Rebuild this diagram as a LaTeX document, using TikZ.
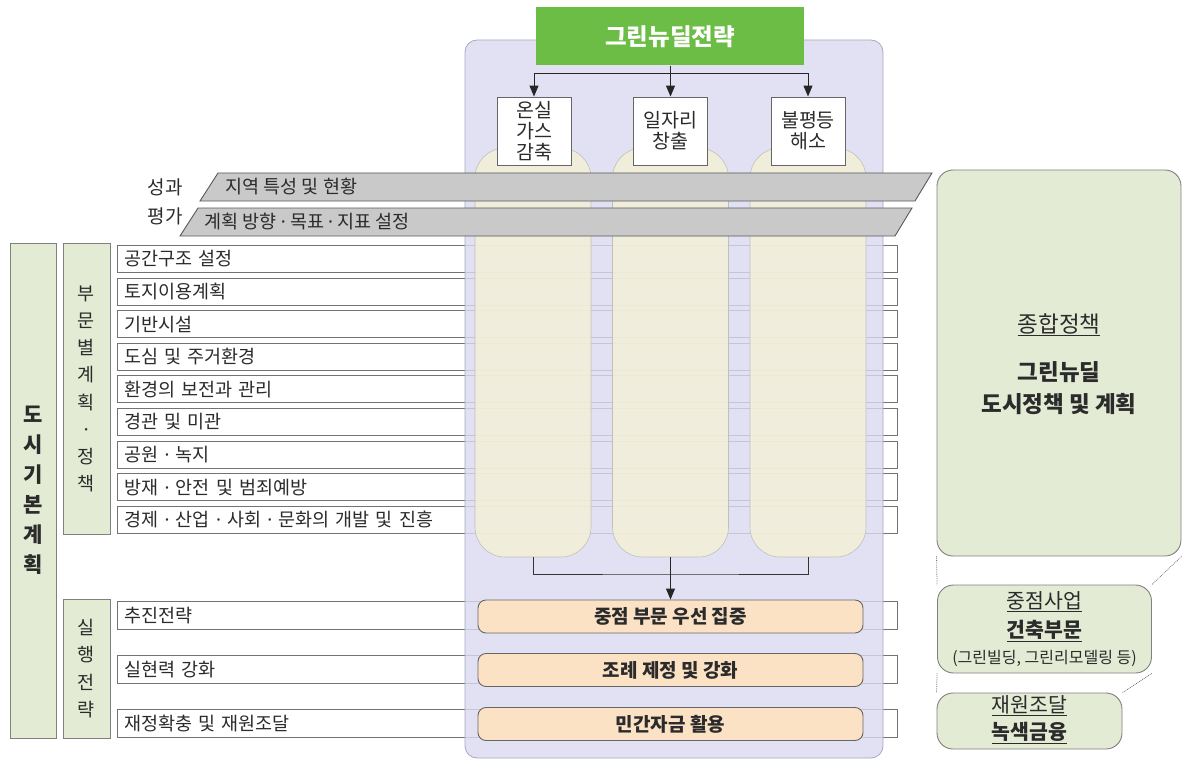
\documentclass[tikz,border=0pt]{standalone}
\usepackage{fontspec}
\setmainfont{Noto Sans CJK KR}
\newfontfamily\latinf{Noto Sans}
\newcommand{\md}{{\latinf ·}}
\usetikzlibrary{arrows.meta}
\definecolor{lav}{HTML}{DADAF0}
\definecolor{lavline}{HTML}{A8A8C0}
\definecolor{titlegreen}{HTML}{6CBD45}
\definecolor{cream}{HTML}{F4F0D8}
\definecolor{peach}{HTML}{FCE2C5}
\definecolor{lgreen}{HTML}{E3EBD4}
\definecolor{barfill}{HTML}{C9C9C9}
\definecolor{txt}{HTML}{2B2B2B}
\begin{document}
\begin{tikzpicture}[x=1pt,y=-1pt,
  every node/.style={text=txt},
  rowbox/.style={draw=black!55, line width=1pt, fill=white, minimum height=27pt, text width=766pt, inner xsep=7pt, inner ysep=0pt, align=left, anchor=north west, font=\fontsize{18.5}{20}\selectfont},
  goalbox/.style={draw=black!60, line width=0.9pt, fill=white, minimum width=74pt, minimum height=68pt, inner sep=1pt, align=center, font=\fontsize{19.5}{21}\selectfont},
  colbox/.style={draw=black!25, line width=0.6pt, fill=cream, fill opacity=0.85, minimum width=116pt, minimum height=409pt, rounded corners=30pt},
  actbox/.style={draw=black!60, line width=0.9pt, fill=peach, minimum width=385pt, minimum height=33pt, rounded corners=8pt, font=\fontsize{19}{21}\selectfont\bfseries},
  sidebox/.style={draw=black!50, line width=0.9pt, fill=lgreen, inner sep=0pt},
  greenbox/.style={draw=black!50, line width=0.9pt, fill=lgreen, rounded corners=16pt, align=center, inner sep=0pt},
  bar/.style={draw=black!65, line width=0.9pt, fill=barfill},
  arr/.style={line width=1pt, draw=black!85, -{Triangle[length=11pt,width=9pt]}},
  conn/.style={line width=1pt, draw=black!80},
  zoomline/.style={densely dotted, draw=black!55, line width=0.8pt},
  body/.style={font=\fontsize{18.5}{20}\selectfont}
]
\useasboundingbox (0,0) rectangle (1184,765);

% rows of plans (under the panel)
\foreach \t [count=\i from 0] in {공간구조 설정, 토지이용계획, 기반시설, 도심 및 주거환경, 환경의 보전과 관리, 경관 및 미관, 공원 \md{} 녹지, 방재 \md{} 안전 및 범죄예방, 경제 \md{} 산업 \md{} 사회 \md{} 문화의 개발 및 진흥}{
  \node[rowbox] (r\i) at (117,245+32.6*\i) {\t};
}
\node[rowbox, minimum height=28pt] (s1) at (117,601) {추진전략};
\node[rowbox, minimum height=28pt] (s2) at (117,655) {실현력 강화};
\node[rowbox, minimum height=28pt] (s3) at (117,709) {재정확충 및 재원조달};

% central panel
\node[draw=lavline, line width=0.8pt, fill=lav, fill opacity=0.8, rounded corners=12pt, minimum width=418pt, minimum height=718pt, inner sep=0pt] (panel) at (674,399) {};

% columns
\node[colbox] (c1) at (533,352.5) {};
\node[colbox] (c2) at (670.5,352.5) {};
\node[colbox] (c3) at (808,352.5) {};

% gray bars
\draw[bar] (200,201) -- (218,173) -- (932,173) -- (915,201) -- cycle;
\draw[bar] (180,236) -- (198,208) -- (912,208) -- (895,236) -- cycle;
\node[anchor=west, body] (bt1) at (222,187) {지역 특성 및 현황};
\node[anchor=west, body] (bt2) at (201,222) {계획 방향 \md{} 목표 \md{} 지표 설정};
\node[font=\fontsize{19}{20}\selectfont] (pf1) at (165,187) {성과};
\node[font=\fontsize{19}{20}\selectfont] (pf2) at (165,216) {평가};

% title and goals
\node[fill=titlegreen, minimum width=268pt, minimum height=58pt, inner sep=0pt, text=white, font=\fontsize{23.5}{25}\selectfont\bfseries] (title) at (670,36.5) {그린뉴딜전략};
\node[goalbox] (b1) at (534,131) {온실\\가스\\감축};
\node[goalbox] (b2) at (670.5,131) {일자리\\창출};
\node[goalbox] (b3) at (808,131) {불평등\\해소};
\coordinate (j) at (670.5,74);
\draw[arr] (title.south -| b2.north) -- (b2.north);
\draw[arr] (j) -| (b1.north);
\draw[arr] (j) -| (b3.north);

% action boxes
\node[actbox] (o1) at (670.5,616.5) {중점 부문 우선 집중};
\node[actbox] (o2) at (670.5,670) {조례 제정 및 강화};
\node[actbox] (o3) at (670.5,724) {민간자금 활용};
\coordinate (k) at (670.5,574);
\draw[conn] (c1.south) |- (k) -| (c3.south);
\draw[arr] (c2.south) -- (o1.north);

% left labels
\node[sidebox, minimum width=46pt, minimum height=495pt] (city) at (33,490.5) {};
\node[font=\fontsize{21}{30}\selectfont\bfseries, align=center] (cityt) at (city.center) {도\\시\\기\\본\\계\\획};
\node[sidebox, minimum width=47pt, minimum height=291pt] (sec) at (86.5,389) {};
\node[font=\fontsize{18.5}{27.2}\selectfont, align=center] (sect) at (86.5,389) {부\\문\\별\\계\\획\\·\\정\\책};
\node[sidebox, minimum width=47pt, minimum height=139pt] (imp) at (86.5,668.5) {};
\node[font=\fontsize{18.5}{27.5}\selectfont, align=center] (impt) at (86.5,668.5) {실\\행\\전\\략};

% right panel
\node[greenbox, minimum width=244pt, minimum height=386pt] (zp) at (1059,363) {};
\node[font=\fontsize{22.5}{24}\selectfont] (zpt1) at (1059,325) {\underline{종합정책}};
\node[font=\fontsize{22.5}{32}\selectfont\bfseries, align=center] (zpt2) at (1059,388) {그린뉴딜\\도시정책 및 계획};
\node[greenbox, minimum width=214pt, minimum height=88pt] (zs) at (1044.5,629) {};
\node[font=\fontsize{20.5}{22}\selectfont] (zst1) at (1044.5,602) {\underline{중점사업}};
\node[font=\fontsize{20.5}{22}\selectfont\bfseries] (zst2) at (1044.5,631) {\underline{건축부문}};
\node[font=\fontsize{16}{18}\selectfont] (zst3) at (1044.5,658) {(그린빌딩, 그린리모델링 등)};
\node[greenbox, minimum width=185pt, minimum height=56pt] (zf) at (1029.5,721) {};
\node[font=\fontsize{20.5}{22}\selectfont] (zft1) at (1029.5,706) {\underline{재원조달}};
\node[font=\fontsize{20.5}{22}\selectfont\bfseries] (zft2) at (1029.5,733) {\underline{녹색금융}};
\draw[zoomline] (zp.south west) -- (zs.north west);
\draw[zoomline] (zp.south east) -- (zs.north east);
\draw[zoomline] (zs.south west) -- (zf.north west);
\draw[zoomline] (zs.south east) -- (zf.north east);
\end{tikzpicture}
\end{document}
